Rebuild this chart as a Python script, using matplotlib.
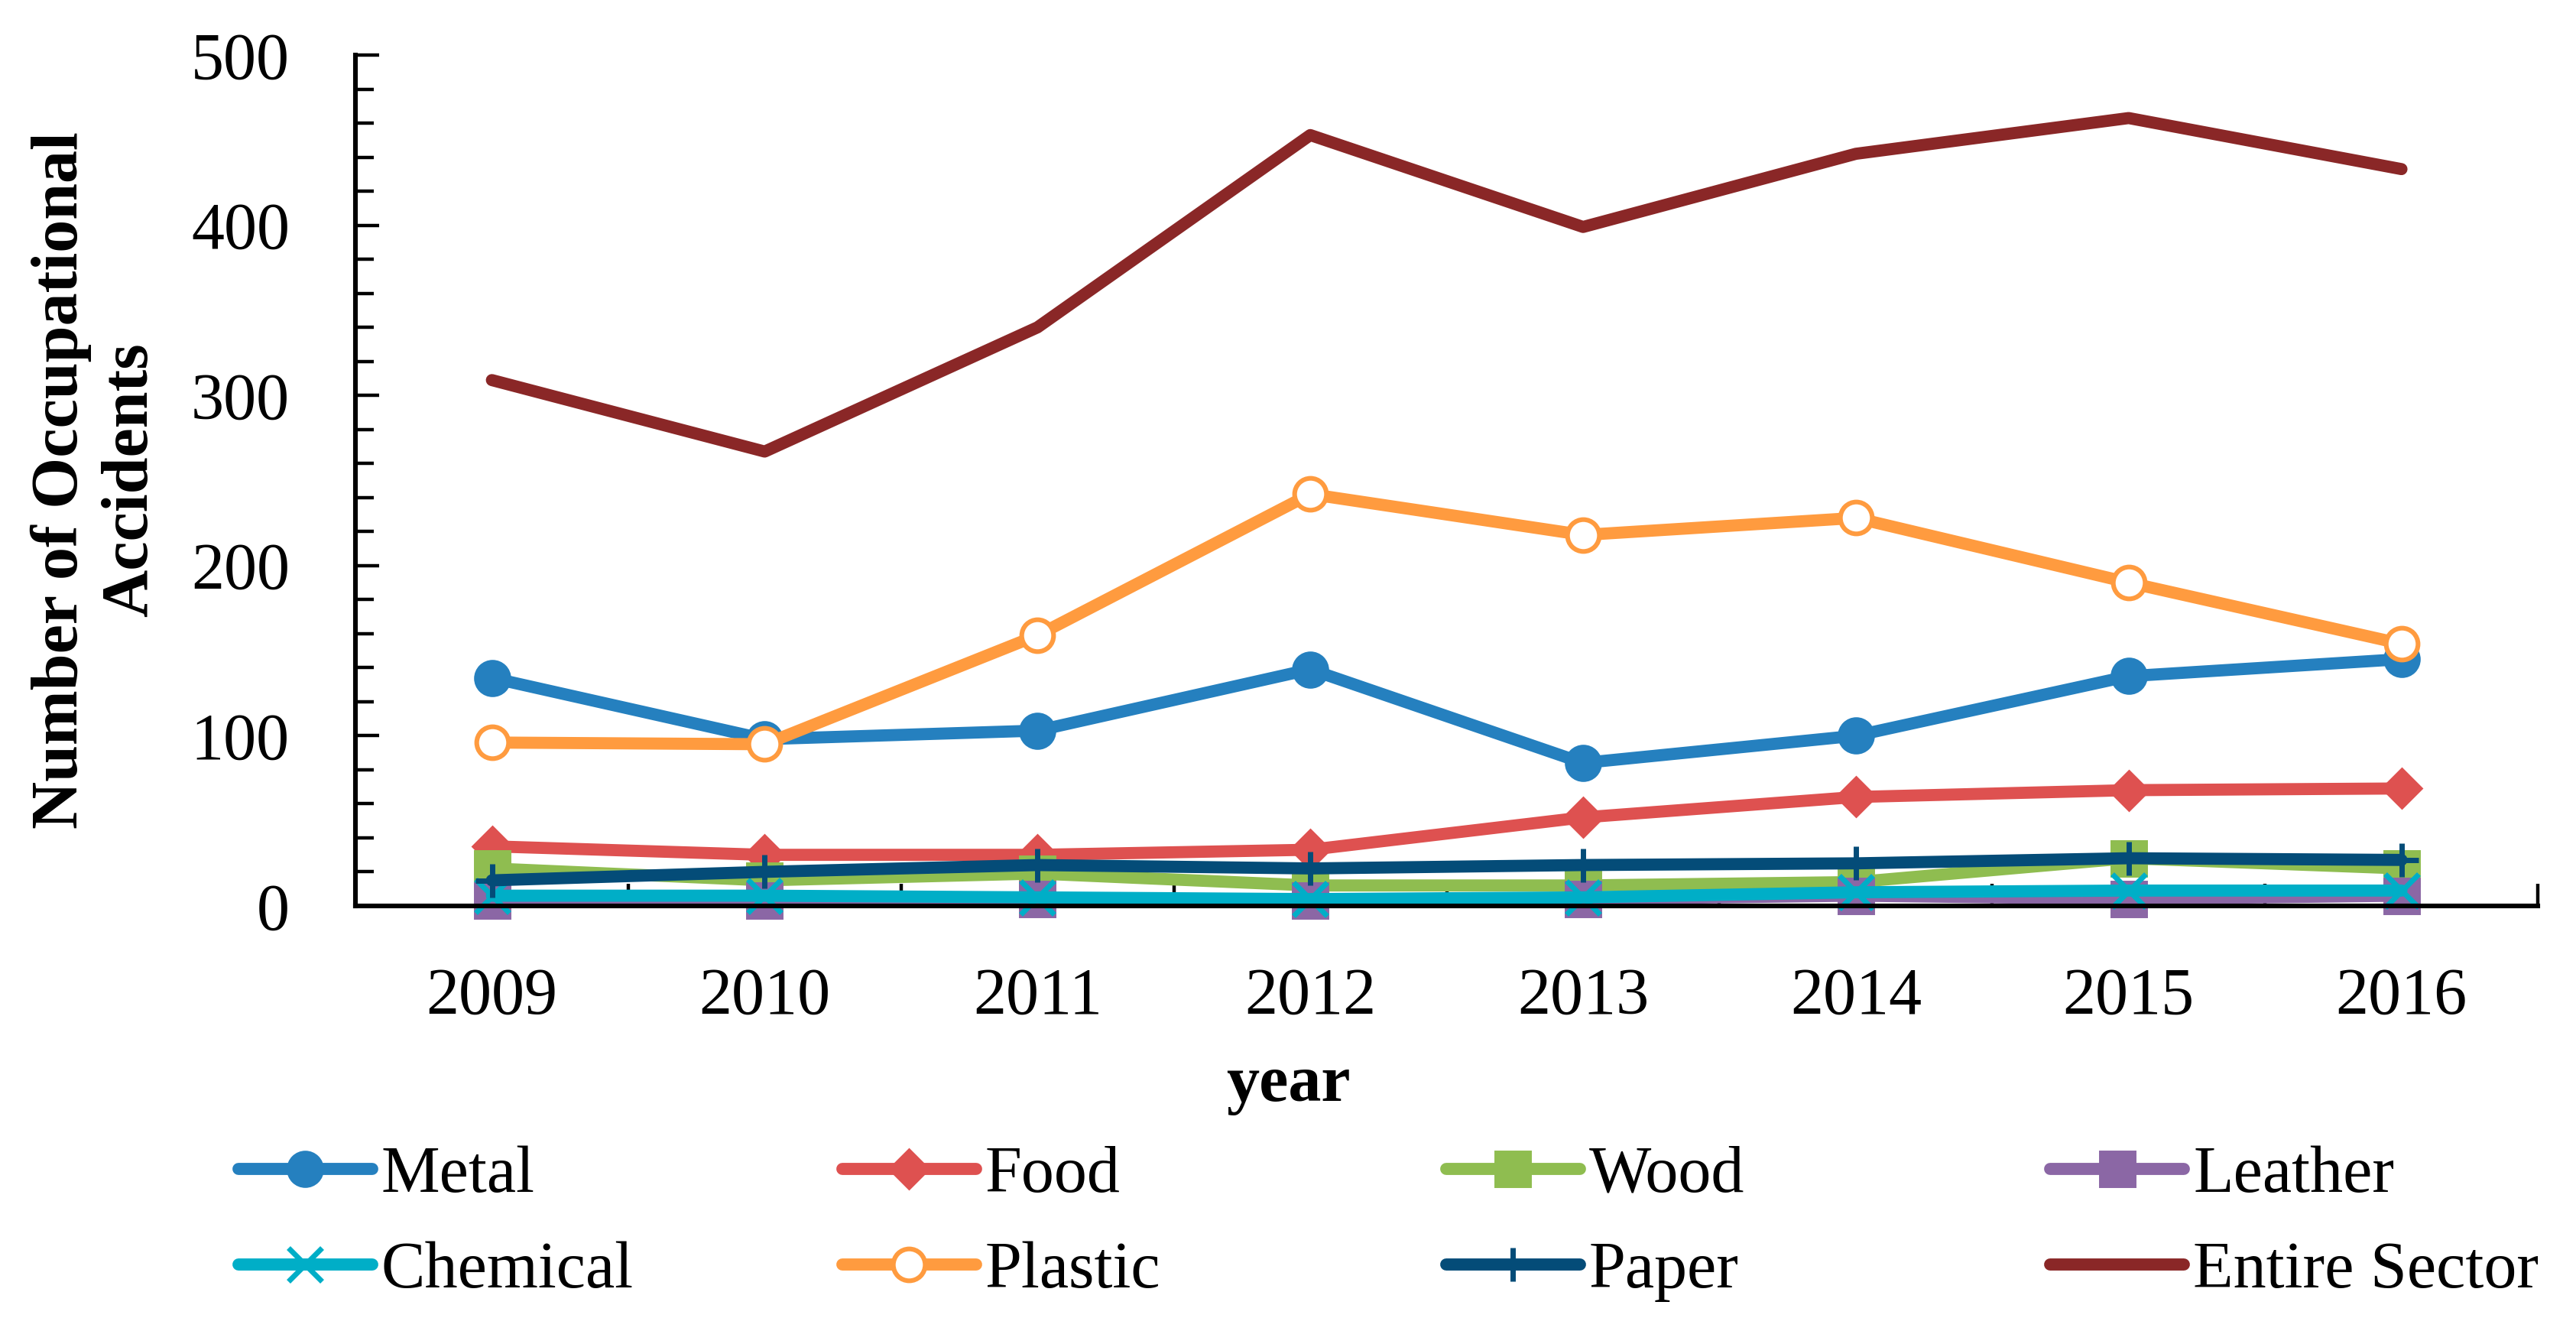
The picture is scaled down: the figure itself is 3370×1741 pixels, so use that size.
import numpy as np
import matplotlib
matplotlib.use("Agg")
import matplotlib.pyplot as plt
from matplotlib.ticker import MultipleLocator, FixedLocator

# data
years = ["2009", "2010", "2011", "2012", "2013", "2014", "2015", "2016"]
metal = [134, 98, 103, 139, 84, 100, 135, 145]
food = [35, 30, 30, 33, 52, 64, 68, 69]
wood = [22, 15, 19, 12, 12, 14, 28, 22]
leather = [3, 3, 4, 3, 4, 6, 4, 6]
chemical = [6, 6, 5, 4, 5, 8, 9, 9]
plastic = [96, 95, 159, 242, 218, 228, 190, 154]
paper = [15, 20, 24, 22, 24, 25, 28, 27]
entire = [309, 267, 340, 453, 399, 442, 463, 433]

names = ["Metal", "Food", "Wood", "Leather", "Chemical", "Plastic", "Paper", "Entire Sector"]
series = [metal, food, wood, leather, chemical, plastic, paper, entire]

# styles
colors = ["#2580BF", "#DE5150", "#8FBD50", "#8B67A5", "#00AEC7", "#FF9B3F", "#044C78", "#8A2727"]
markers = ["o", "D", "s", "s", "x", "o", "+", None]
msizes = [15, 11.5, 15, 15, 16, 15, 16, 0]

plt.rcParams["font.family"] = ["Liberation Serif", "DejaVu Serif"]
FS = 31

fig = plt.figure(figsize=(16.85, 8.705), dpi=200)
ax = fig.add_axes([0.138, 0.3194, 0.8472, 0.6392])

x = np.arange(len(years))
handles = []
for name, vals, c, m, ms in zip(names, series, colors, markers, msizes):
    kw = dict(color=c, lw=5.7, solid_capstyle="round", solid_joinstyle="round",
              clip_on=False, label=name)
    if m is not None:
        kw.update(marker=m, markersize=ms, markeredgecolor=c, markerfacecolor=c,
                  markeredgewidth=2.5)
        if name == "Plastic":
            kw.update(markerfacecolor="white", markeredgewidth=2.2)
    h, = ax.plot(x, vals, **kw)
    handles.append(h)

ax.set_xlim(-0.5, len(years) - 0.5)
ax.set_ylim(0, 500)

for s in ["top", "right"]:
    ax.spines[s].set_visible(False)
for s in ["left", "bottom"]:
    ax.spines[s].set_linewidth(2.2)

ax.set_xticks(x)
ax.set_xticklabels(years)
ax.xaxis.set_minor_locator(FixedLocator(np.arange(-0.5, len(years), 1.0)))
ax.tick_params(axis="x", which="major", length=0, pad=29, labelsize=FS)
ax.tick_params(axis="x", which="minor", direction="in", length=10.5, width=1.6)

ax.yaxis.set_major_locator(MultipleLocator(100))
ax.yaxis.set_minor_locator(MultipleLocator(20))
ax.tick_params(axis="y", which="major", direction="in", length=11, width=1.6,
               pad=31, labelsize=FS)
ax.tick_params(axis="y", which="minor", direction="in", length=8.5, width=1.6)

# axis titles
fig.text(0.0371, 0.6393, "Number of Occupational\nAccidents", rotation=90,
         ha="center", va="center", multialignment="center",
         fontsize=FS, fontweight="bold")
fig.text(0.5, 1 - 1440 / 1741, "year", ha="center", va="baseline",
         fontsize=FS, fontweight="bold")

# legend: four columns of two entries each
col_x = [0.0926, 0.327, 0.5614, 0.7959]
for i, cx in enumerate(col_x):
    leg = fig.legend(handles=[handles[i], handles[i + 4]],
                     labels=[names[i], names[i + 4]],
                     loc="center left", bbox_to_anchor=(cx, 0.0807),
                     frameon=False, fontsize=FS, borderpad=0, borderaxespad=0,
                     handlelength=2.03, handletextpad=0.14, labelspacing=0.53,
                     numpoints=1)

fig.savefig("out.png", dpi=200)
